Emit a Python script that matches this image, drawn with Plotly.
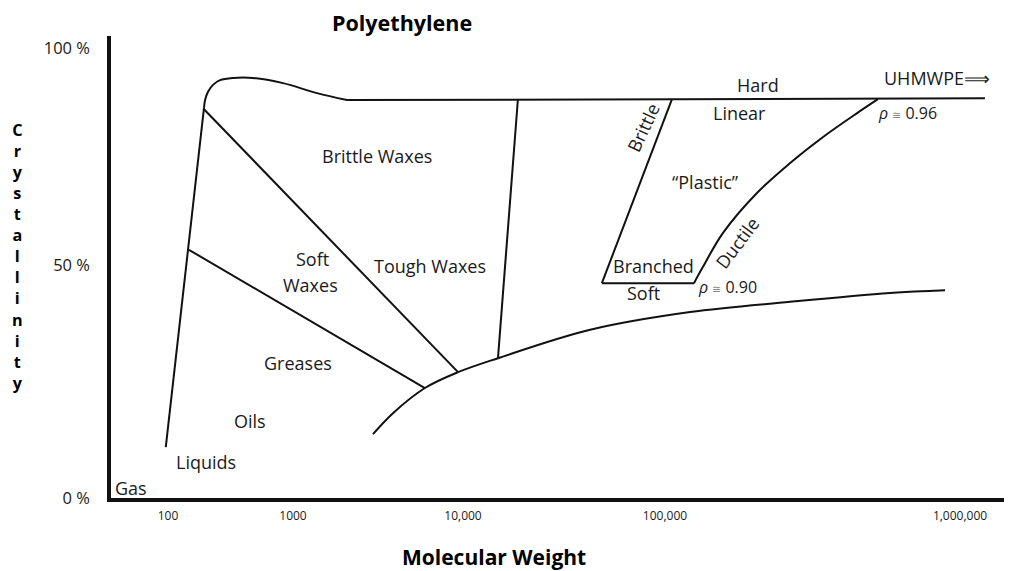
import numpy as np
import plotly.graph_objects as go

# ---------------- data ----------------
# axis tick anchors (the hand-drawn diagram axis is not uniformly logarithmic)
mw_ticks = [100, 1000, 10000, 100000, 1000000]
mw_ticktext = ["100", "1000", "10,000", "100,000", "1,000,000"]
cryst_ticks = [0, 50, 100]
cryst_ticktext = ["0 %", "50 %", "100 %"]

# boundary lines: molecular weight (g/mol) and crystallinity (%)
liquid_mw = [96, 194]
liquid_cr = [10.9, 86.2]

hump_mw = [194, 198, 209, 229, 261, 331, 479, 832, 1384, 2080]
hump_cr = [86.2, 88.0, 89.9, 91.5, 92.6, 93.1, 93.1, 91.9, 89.6, 88.0]

top_mw = [2080, 1215000]
top_cr = [88.0, 88.4]

grease_mw = [147, 5970]
grease_cr = [53.5, 23.6]

tough_mw = [194, 9350]
tough_cr = [85.9, 27.0]

polymer_mw = [18700, 14900]
polymer_cr = [88.2, 30.0]

amorph_mw = [2955, 3873, 5970, 9350, 14900, 42600, 121600, 265600, 579000, 890000]
amorph_cr = [13.7, 18.2, 23.6, 27.0, 30.0, 36.1, 39.9, 42.1, 44.0, 44.6]

brittle_mw = [105600, 48700]
brittle_cr = [88.2, 46.1]

branched_mw = [48700, 125400]
branched_cr = [46.1, 46.1]

ductile_mw = [125400, 134500, 157300, 205000, 265600, 343500, 448000, 527000]
ductile_cr = [46.1, 49.6, 57.4, 66.6, 73.5, 79.5, 85.0, 88.2]

# ---------------- diagram scale ----------------
# where each tick anchor sits along the drawn axes (axis units)
MW_TICK_POS = [60, 185, 355, 557, 852]
CR_TICK_POS = [2, 235, 452]


def _interp_ext(v, xs, ys):
    v = np.asarray(v, float)
    xs = np.asarray(xs, float)
    ys = np.asarray(ys, float)
    p = np.interp(v, xs, ys)
    lo_s = (ys[1] - ys[0]) / (xs[1] - xs[0])
    hi_s = (ys[-1] - ys[-2]) / (xs[-1] - xs[-2])
    p = np.where(v < xs[0], ys[0] + (v - xs[0]) * lo_s, p)
    p = np.where(v > xs[-1], ys[-1] + (v - xs[-1]) * hi_s, p)
    return p


def xs(mw):
    return _interp_ext(np.log10(np.asarray(mw, float)), np.log10(mw_ticks), MW_TICK_POS)


def ys(cr):
    return _interp_ext(cr, cryst_ticks, CR_TICK_POS)


FONT = "Open Sans"
fig = go.Figure()

curves = [
    (liquid_mw, liquid_cr, "linear"),
    (hump_mw, hump_cr, "spline"),
    (top_mw, top_cr, "linear"),
    (grease_mw, grease_cr, "linear"),
    (tough_mw, tough_cr, "linear"),
    (polymer_mw, polymer_cr, "linear"),
    (amorph_mw, amorph_cr, "spline"),
    (brittle_mw, brittle_cr, "linear"),
    (branched_mw, branched_cr, "linear"),
    (ductile_mw, ductile_cr, "spline"),
]
for mw, cr, shape in curves:
    fig.add_trace(go.Scatter(
        x=xs(mw), y=ys(cr), mode="lines",
        line=dict(color="#111111", width=2, shape=shape, smoothing=1.0),
        hoverinfo="skip", showlegend=False, cliponaxis=False,
    ))

# page frame (the page body adds an 8 px margin around the figure)
OFF = 8
PL, PR, PT, PB = 111, 1012, 36, 498   # plot area edges in page pixels
FW, FH = 1012 - OFF, 571 - OFF


def label(text, px, py, size=18, angle=0, bold=False, color="#1a1a1a"):
    fig.add_annotation(
        x=(px - PL) / (PR - PL), y=(PB - py) / (PB - PT),
        xref="paper", yref="paper", text=text,
        showarrow=False, textangle=angle,
        font=dict(family=FONT, size=size, color=color,
                  weight="bold" if bold else "normal"),
        xanchor="center", yanchor="middle",
    )


label("Polyethylene", 402, 23, size=21.5, bold=True, color="#000")
label("Molecular Weight", 494, 557, size=21, bold=True, color="#000")
label("<br>".join("Crystallinity"), 17, 256, size=16.2, bold=True, color="#000")

label("Brittle Waxes", 377, 156)
label("Soft", 312, 259)
label("Waxes", 310, 285)
label("Tough Waxes", 430, 266)
label("Greases", 298, 363)
label("Oils", 250, 421)
label("Liquids", 206, 462)
label("Gas", 131, 488)
label("Hard", 758, 85)
label("UHMWPE\u27f9", 937, 78)
label("Linear", 739, 113)
label("<i>\u03c1</i> <span style='font-size:11px;color:#888'>\u2245</span> 0.96", 907, 113, size=16)
label("Brittle", 643, 128, angle=-65)
label("\u201cPlastic\u201d", 705, 182)
label("Ductile", 737, 243, angle=-53)
label("Branched", 653, 266)
label("Soft", 643, 293)
label("<i>\u03c1</i> <span style='font-size:11px;color:#888'>\u2245</span> 0.90", 727, 287, size=16)

fig.update_layout(
    width=FW, height=FH,
    margin=dict(l=PL - OFF, r=0, t=PT - OFF, b=FH - (PB - OFF), pad=0, autoexpand=False),
    paper_bgcolor="white", plot_bgcolor="white",
    font=dict(family=FONT, color="#1a1a1a"),
    xaxis=dict(
        range=[PL - 108, PR - 108], showgrid=False, zeroline=False, automargin=False,
        showline=True, linewidth=3.5, linecolor="#111",
        tickmode="array", tickvals=xs(mw_ticks), ticktext=mw_ticktext,
        tickfont=dict(family=FONT, size=12, color="#1a1a1a"),
        ticks="", ticklabelstandoff=4, fixedrange=True,
    ),
    yaxis=dict(
        range=[500 - PB, 500 - PT], showgrid=False, zeroline=False, automargin=False,
        showline=True, linewidth=3.5, linecolor="#111",
        tickmode="array", tickvals=ys(cryst_ticks), ticktext=cryst_ticktext,
        tickfont=dict(family=FONT, size=16.5, color="#1a1a1a"),
        ticks="", ticklabelstandoff=14, fixedrange=True,
    ),
)

fig.write_html("out.html")
